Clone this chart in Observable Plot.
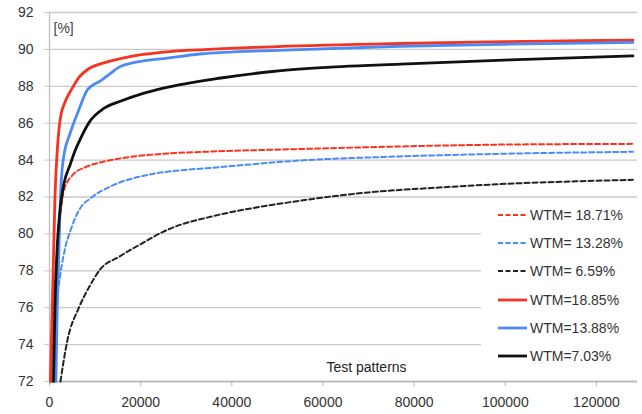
<!DOCTYPE html>
<html><head><meta charset="utf-8">
<script src="https://cdn.jsdelivr.net/npm/d3@7"></script>
<script src="https://cdn.jsdelivr.net/npm/@observablehq/plot@0.6"></script>
<style>
body{margin:0;background:#fff;}
#wrap{position:relative;width:642px;height:414px;font-family:"Liberation Sans",Arial,sans-serif;}
#legend{position:absolute;left:481px;top:200px;width:161px;height:174px;background:#fff;}
.item{position:absolute;left:17px;height:20px;display:flex;align-items:center;font-size:14px;color:#333;white-space:pre;}
.item svg{margin-right:3px;}
</style></head><body><div id="wrap"><div id="chart"></div><div id="legend"></div></div>
<script>
// Data: [test patterns, accuracy %]
const redDashed = [[300,72],[1000,76],[1800,79.5],[2500,81.3],[3150,82.35],[5000,83.17],[7900,83.62],[11600,83.9],[17400,84.16],[24800,84.34],[34000,84.45],[55000,84.6],[77000,84.74],[99000,84.84],[128000,84.88]];
const blueDashed = [[500,72],[1500,76],[2500,78],[3500,79.3],[4600,80.18],[6450,81.27],[9400,82.0],[13800,82.62],[21000,83.17],[28400,83.44],[34000,83.55],[55000,83.98],[77000,84.2],[99000,84.34],[128000,84.45]];
const blackDashed = [[2400,72],[3900,74.2],[6450,76.0],[8650,77.1],[11200,78.1],[15200,78.75],[20400,79.5],[24800,80.1],[28800,80.5],[34000,80.85],[55000,81.8],[70000,82.25],[84500,82.5],[99000,82.7],[128000,82.93]];
const redSolid = [[200,72],[600,76],[900,79],[1200,82],[1700,84.5],[2400,86.3],[3500,87.2],[5000,87.9],[6500,88.5],[8600,88.95],[12300,89.3],[17400,89.6],[25000,89.85],[35000,90.0],[50000,90.15],[77000,90.32],[100000,90.42],[128000,90.5]];
const blueSolid = [[1400,72],[1700,76],[2000,78.5],[2400,82],[3000,84],[4600,85.5],[6400,86.7],[8300,87.8],[11200,88.3],[13400,88.7],[15000,89.0],[20000,89.35],[25000,89.5],[33000,89.75],[50000,89.95],[77000,90.17],[100000,90.28],[128000,90.38]];
const blackSolid = [[880,72],[1200,76],[1760,79.6],[2050,80.6],[2400,81.5],[3150,82.7],[4600,83.8],[5350,84.35],[6600,85.06],[9000,86.15],[11900,86.8],[16000,87.23],[20400,87.6],[25000,87.9],[37600,88.45],[50800,88.85],[64000,89.07],[77000,89.2],[101000,89.43],[128000,89.65]];

const labels = ["WTM= 18.71%","WTM= 13.28%","WTM= 6.59%","WTM=18.85%","WTM=13.88%","WTM=7.03%"];
const xTicks = [0,20000,40000,60000,80000,100000,120000];
const yTicks = [72,74,76,78,80,82,84,86,88,90,92];

const RED = "#f5331e", BLUE = "#4c8bf5", BLACK = "#111";
const series = [
  {label: labels[0], data: redDashed, color: RED, dash: "5,3", width: 2},
  {label: labels[1], data: blueDashed, color: BLUE, dash: "5,3", width: 2},
  {label: labels[2], data: blackDashed, color: "#222", dash: "5,3", width: 2},
  {label: labels[3], data: redSolid, color: RED, dash: null, width: 2.8},
  {label: labels[4], data: blueSolid, color: BLUE, dash: null, width: 2.8},
  {label: labels[5], data: blackSolid, color: BLACK, dash: null, width: 2.8}
];

const lineMarks = series.map(s => Plot.line(s.data, {
  x: d => d[0], y: d => d[1], stroke: s.color, strokeWidth: s.width,
  strokeDasharray: s.dash || undefined, curve: "monotone-x"
}));

const chart = Plot.plot({
  width: 642, height: 414,
  marginLeft: 49, marginRight: 5, marginTop: 12, marginBottom: 33,
  style: {fontFamily: "'Liberation Sans', Arial, sans-serif", fontSize: "14px", color: "#333", background: "#fff"},
  x: {domain: [0, 129000]},
  y: {domain: [72, 92]},
  marks: [
    Plot.gridY(yTicks, {stroke: "#c9c9c9", strokeOpacity: 1, strokeWidth: 1.3}),
    Plot.axisY(yTicks, {tickSize: 5, tickPadding: 11, stroke: "#c9c9c9", label: null, fontSize: 14}),
    Plot.axisX(xTicks, {tickSize: 5, tickPadding: 11, stroke: "#b5b5b5", label: null, tickFormat: d => String(d), fontSize: 14}),
    Plot.ruleX([0], {stroke: "#c0c0c0", strokeWidth: 1.3}),
    Plot.ruleY([72], {stroke: "#b5b5b5", strokeWidth: 1.3}),
    ...lineMarks,
    Plot.text(["[%]"], {frameAnchor: "top-left", dx: 4, dy: 11, textAnchor: "start", fontSize: 14, fill: "#444"}),
    Plot.text(["Test patterns"], {frameAnchor: "bottom", dx: 23, dy: -10, fontSize: 14, fill: "#222"})
  ]
});
document.getElementById("chart").appendChild(chart);

const legend = document.getElementById("legend");
series.forEach((s, i) => {
  const item = document.createElement("div");
  item.className = "item";
  item.style.top = (15 + i * 28.2 - 10) + "px";
  item.innerHTML = `<svg width="29" height="6"><line x1="0" y1="3" x2="29" y2="3" stroke="${s.color}" stroke-width="${s.dash ? 2 : 2.8}" ${s.dash ? `stroke-dasharray="5,2.5"` : ""}/></svg>` ;
  item.appendChild(document.createTextNode(s.label));
  legend.appendChild(item);
});
</script></body></html>
